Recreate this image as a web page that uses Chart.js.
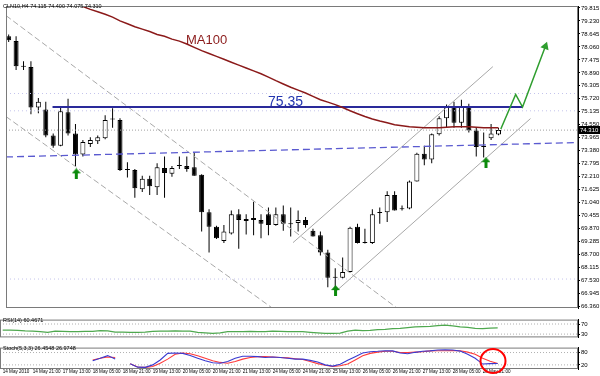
<!DOCTYPE html>
<html><head><meta charset="utf-8">
<script src="https://cdn.jsdelivr.net/npm/chart.js@4/dist/chart.umd.min.js"></script>
<style>
html,body{margin:0;padding:0;background:#fff;width:600px;height:376px;overflow:hidden}
canvas{position:absolute;left:0;display:block}
</style></head><body>
<canvas id="main" width="600" height="314" style="top:0;width:600px;height:314px"></canvas>
<canvas id="rsi" width="600" height="27" style="top:315px;width:600px;height:27px"></canvas>
<canvas id="sto" width="600" height="33" style="top:343px;width:600px;height:33px"></canvas>
<script>
// ---------- DATA ----------
const opens  = [78.54,78.32,77.19,77.15,75.33,75.24,74.07,73.60,75.11,74.16,73.21,73.68,73.81,73.94,74.79,74.77,72.51,72.51,71.65,72.12,71.73,72.60,72.34,72.69,72.69,72.64,72.30,70.61,69.96,69.31,69.65,70.52,70.22,70.35,70.26,70.52,70.04,70.52,70.07,70.13,70.26,69.78,69.57,68.79,67.66,67.66,67.92,69.96,69.22,69.22,70.58,70.61,71.39,70.74,70.78,71.99,73.25,72.99,74.12,74.85,75.37,74.64,75.37,74.29,73.60,73.94,74.115];
const highs  = [78.62,78.54,77.41,77.41,75.76,75.59,74.16,75.37,75.72,74.59,73.86,73.99,74.07,74.98,75.29,74.85,72.86,72.56,72.25,72.25,72.82,73.12,72.69,73.12,73.12,73.29,72.32,70.74,70.00,70.04,70.69,70.74,70.52,71.08,70.52,70.82,70.82,70.91,70.82,70.69,70.39,69.87,69.74,68.92,68.09,68.57,69.96,70.09,69.87,70.74,70.82,71.56,71.56,70.91,72.04,73.29,73.60,74.16,74.94,75.46,75.59,75.68,75.50,74.42,74.20,74.59,74.40];
const lows   = [78.28,77.02,77.02,75.03,75.07,73.99,73.51,73.58,74.07,72.69,73.12,73.55,73.68,73.90,74.42,72.47,72.17,71.26,71.52,71.39,71.39,71.26,72.21,72.56,72.43,72.25,69.74,68.79,69.40,69.22,69.61,68.96,69.61,69.57,69.44,69.57,70.00,69.78,69.52,69.74,69.91,69.52,68.66,67.23,67.14,67.62,67.90,69.20,69.20,69.18,70.09,70.17,70.69,70.69,70.74,71.99,72.73,72.82,74.07,74.42,74.42,74.42,74.20,73.12,73.08,73.86,74.075];
const closes = [78.36,77.19,77.17,75.33,75.59,74.07,73.60,75.16,74.16,73.21,73.77,73.86,73.99,74.77,74.81,72.51,72.53,71.69,72.12,71.78,72.64,72.38,72.60,72.71,72.56,72.25,70.61,69.96,69.44,69.74,70.52,70.26,70.30,70.26,70.09,70.04,70.52,70.09,70.09,70.26,70.04,69.52,68.79,67.66,67.68,67.92,69.91,69.22,69.26,70.52,70.61,71.39,70.69,70.78,71.99,73.25,72.99,74.12,74.85,75.37,74.64,75.37,74.29,73.55,73.55,74.16,74.31];
const ma100  = [null,null,null,null,null,null,null,null,null,80.01,79.88,79.75,79.64,79.53,79.40,79.23,79.10,78.97,78.86,78.75,78.62,78.54,78.41,78.32,78.19,78.04,77.89,77.76,77.63,77.50,77.37,77.24,77.11,76.98,76.85,76.70,76.54,76.39,76.24,76.11,75.98,75.83,75.68,75.57,75.46,75.33,75.18,75.05,74.92,74.81,74.72,74.64,74.55,74.51,74.46,74.44,74.42,74.42,74.42,74.44,74.46,74.46,74.46,74.44,74.42,74.42,74.42];
const rsi14  = [45.7,45.5,45,43,42,40,37,42,41,39.5,40,40.5,41,44,43,38,37.5,37,36.5,37.5,41,42,42,42.5,42,41.5,37,35,33,35,39.5,40,40,40.5,40,40,42,41,40,40,39.5,37,35,33,32.5,34,42,45.5,44,44.5,48,49,52,53,56,58.5,60,61,63.5,65.5,63,59,57,53,52,54,55];
const stochMain   = [null,null,null,null,null,null,null,null,null,null,null,null,40,52,65,48,null,25,9,8,20,44,76,78,76,66,52,40,30,28,36,52,62,62,60,56,58,56,52,48,48,42,34,20,14,23,42,60,78,84,86,89,88,78,74,81,86,88,92,93,92,87,72,52,24,26,26.45];
const stochSignal = [null,null,null,null,null,null,null,null,null,null,null,null,44,52,58,56,null,25,10,8,12,28,48,72,78,74,64,52,40,32,28,36,48,56,60,60,58,56,54,50,46,36,26,18,12,16,24,44,64,76,82,86,86,80,80,82,84,88,89,89,90,89,82,72,52,38,26.97];
const yTickLabels = [79.815,79.230,78.645,78.060,77.475,76.890,76.305,75.720,75.135,74.550,73.965,73.380,72.795,72.210,71.625,71.040,70.455,69.870,69.285,68.700,68.115,67.530,66.945,66.360];
const xTickBars   = [0,4,8,12,16,20,24,28,32,36,40,44,48,52,56,60,64];
const xTickLabels = ["14 May 2010","14 May 21:00","17 May 13:00","18 May 05:00","18 May 21:00","19 May 13:00","20 May 05:00","20 May 21:00","21 May 13:00","24 May 05:00","24 May 21:00","25 May 13:00","26 May 05:00","26 May 21:00","27 May 13:00","28 May 05:00","28 May 21:00"];
const resistance  = 75.35;
// trend objects: [barIndex, price] pairs
const descUpper = [[-0.36,79.47],[52.28,66.30]];
const descLower = [[-0.36,74.92],[35.49,66.30]];
const ascUpper  = [[38.31,69.24],[65.24,77.17]];
const ascLower  = [[43.91,66.99],[70.31,74.83]];
const dashedSupport = [[-0.36,73.10],[76.71,73.75]];
const projection = [[66.31,74.36],[68.31,75.92],[69.24,75.35],[72.31,78.08]];
const resistanceSpan = [5.91,69.24];
const buySignals = [[9.11,72.34],[44.04,67.08],[64.31,72.84]];
const faintLevels = [75.96,75.18,67.60];
const rsiLevels = [70,30];
const stochLevels = [80,20];
const header = "CLN10,H4 74.115 74.400 74.075 74.310";
const rsiTitle = "RSI(14) 60.4671";
const stochTitle = "Stoch(5,3,3) 26.4548 26.9748";

// ---------- CHART ----------
const X_MIN = -0.36, X_MAX = 76.71;
const Y_MIN = 66.295, Y_MAX = 79.902;
const FONT = "'Liberation Sans', Arial, sans-serif";
const idx = opens.map((_, i) => i);
const xy = arr => arr.map((v, i) => ({x: i, y: v}));
const pts = arr => arr.map(p => ({x: p[0], y: p[1]}));

function arrowImg() {
  const c = document.createElement('canvas'); c.width = 9; c.height = 11;
  const g = c.getContext('2d'); g.fillStyle = '#0B8A0B';
  g.beginPath(); g.moveTo(4.5,0); g.lineTo(9,5); g.lineTo(6,5); g.lineTo(6,11);
  g.lineTo(3,11); g.lineTo(3,5); g.lineTo(0,5); g.closePath(); g.fill();
  return c;
}

function lineDs(data, color, width, dash, order) {
  return {type:'line', data, borderColor:color, borderWidth:width, borderDash:dash||[],
          pointRadius:0, tension:0, fill:false, order:order||0, spanGaps:false};
}

const framePlugin = {
  id:'frame',
  afterDraw(chart) {
    const a = chart.chartArea, c = chart.ctx;
    c.save(); c.strokeStyle = '#7a7a7a'; c.lineWidth = 1;
    c.strokeRect(a.left+0.5, a.top+0.5, a.right-a.left-1, a.bottom-a.top-1);
    c.restore();
  }
};

function rightAxis(min, max, ticks, fmt) {
  return {
    type:'linear', position:'right', min, max,
    afterBuildTicks: s => { s.ticks = ticks.map(v => ({value:v})); },
    afterFit: s => { s.width = 22; },
    ticks:{autoSkip:false, font:{size:6, family:FONT}, color:'#000', padding:1, callback: fmt},
    grid:{drawOnChartArea:false, drawTicks:true, tickLength:2, color:'#000'},
    border:{display:true, color:'#000', width:1}
  };
}

const baseOpts = {
  responsive:false, animation:false, devicePixelRatio:1, events:[],
  layout:{padding:0},
  plugins:{legend:{display:false}, tooltip:{enabled:false}}
};

// main panel
new Chart(document.getElementById('main'), {
  type:'bar',
  data:{datasets:[
    {type:'bar', data: idx.map(i => ({x:i, y:[lows[i], highs[i]]})), barThickness:1,
     backgroundColor:'#000', borderWidth:0, grouped:false, inflateAmount:0, order:20},
    {type:'bar', data: idx.map(i => ({x:i, y:[opens[i], closes[i]]})), barThickness:5,
     backgroundColor: ctx => closes[ctx.dataIndex] >= opens[ctx.dataIndex] ? '#fff' : '#000',
     borderColor:'#000', borderWidth:1, borderSkipped:false, minBarLength:1, grouped:false, inflateAmount:0, order:19},
    lineDs(pts(descUpper), '#a8a8a8', 1, [6,3], 5),
    lineDs(pts(descLower), '#a8a8a8', 1, [6,3], 5),
    lineDs(pts(ascUpper), '#a8a8a8', 1, [], 5),
    lineDs(pts(ascLower), '#a8a8a8', 1, [], 5),
    ...faintLevels.map(v => lineDs([{x:X_MIN,y:v},{x:X_MAX,y:v}], '#c4c4ec', 1, [1,3], 6)),
    lineDs([{x:X_MIN,y:closes[closes.length-1]},{x:X_MAX,y:closes[closes.length-1]}], '#a0a0a0', 1, [1,2], 6),
    lineDs(pts(dashedSupport), '#5a5ad0', 1.3, [7,4], 4),
    lineDs([{x:resistanceSpan[0],y:resistance},{x:resistanceSpan[1],y:resistance}], '#2a2a9a', 2, [], 3),
    lineDs(xy(ma100).filter(p => p.y !== null), '#8b1a1a', 1.5, [], 2),
    Object.assign(lineDs(pts(projection), '#2f9e2f', 1.5, [], 1),
      {pointRadius: projection.map((_, i) => i === projection.length-1 ? 3.5 : 0),
       pointStyle:'triangle', pointRotation:20, pointBackgroundColor:'#2f9e2f', pointBorderColor:'#2f9e2f'}),
    {type:'line', data: pts(buySignals), showLine:false, pointStyle: arrowImg(), pointRadius:5, order:0}
  ]},
  options: Object.assign({}, baseOpts, {
    scales:{
      x:{type:'linear', min:X_MIN, max:X_MAX, display:false, offset:false},
      y: rightAxis(Y_MIN, Y_MAX, yTickLabels, v => Number(v).toFixed(3))
    }
  }),
  plugins:[framePlugin, {
    id:'labels',
    afterDraw(chart) {
      const c = chart.ctx, ys = chart.scales.y;
      c.save();
      c.textBaseline = 'alphabetic';
      c.fillStyle = '#8b1a1a'; c.font = '13px ' + FONT; c.fillText('MA100', 186, 44);
      c.fillStyle = '#2436b0'; c.font = '14px ' + FONT; c.fillText(String(resistance), 268, 106);
      c.fillStyle = '#000'; c.font = '5.5px ' + FONT; c.textBaseline = 'middle'; c.fillText(header, 3, 6);
      const last = closes[closes.length-1];
      const py = ys.getPixelForValue(last);
      c.fillStyle = '#000'; c.fillRect(578, Math.round(py)-4, 22, 8);
      c.fillStyle = '#fff'; c.font = '6px ' + FONT; c.fillText(last.toFixed(3), 580, Math.round(py));
      c.restore();
    }
  }]
});

// RSI panel
new Chart(document.getElementById('rsi'), {
  type:'line',
  data:{datasets:[
    ...rsiLevels.map(v => lineDs([{x:X_MIN,y:v},{x:X_MAX,y:v}], '#b0b0b0', 1, [1,2], 3)),
    lineDs(xy(rsi14), '#4fa84f', 1.3, [], 1)
  ]},
  options: Object.assign({}, baseOpts, {
    scales:{
      x:{type:'linear', min:X_MIN, max:X_MAX, display:false, offset:false},
      y: rightAxis(16.9, 87.5, rsiLevels, v => String(v))
    }
  }),
  plugins:[framePlugin, {
    id:'rsiTitle',
    afterDraw(chart) {
      const c = chart.ctx; c.save(); c.fillStyle = '#000'; c.font = '5.5px ' + FONT;
      c.textBaseline = 'middle'; c.fillText(rsiTitle, 3, 5); c.restore();
    }
  }]
});

// Stochastic panel
new Chart(document.getElementById('sto'), {
  type:'line',
  data:{datasets:[
    ...stochLevels.map(v => lineDs([{x:X_MIN,y:v},{x:X_MAX,y:v}], '#b0b0b0', 1, [1,2], 3)),
    lineDs(xy(stochSignal), '#ff3a3a', 1.1, [], 2),
    lineDs(xy(stochMain), '#3a3ad0', 1.1, [], 1)
  ]},
  options: Object.assign({}, baseOpts, {
    scales:{
      x:{type:'linear', position:'bottom', min:X_MIN, max:X_MAX, offset:false,
         afterBuildTicks: s => { s.ticks = xTickBars.map(v => ({value:v})); },
         afterFit: s => { s.height = 7; },
         ticks:{autoSkip:false, maxRotation:0, minRotation:0, align:'start', padding:0,
                font:{size:4.6, family:FONT}, color:'#000',
                callback: (v) => xTickLabels[xTickBars.indexOf(v)]},
         grid:{drawOnChartArea:false, drawTicks:false}, border:{display:false}},
      y: rightAxis(0, 104, stochLevels, v => String(v))
    }
  }),
  plugins:[framePlugin, {
    id:'stoTitle',
    afterDraw(chart) {
      const c = chart.ctx; c.save(); c.fillStyle = '#000'; c.font = '5.5px ' + FONT;
      c.textBaseline = 'middle'; c.fillText(stochTitle, 3, 5);
      c.strokeStyle = '#ff0000'; c.lineWidth = 2;
      c.beginPath(); c.ellipse(493, 18, 12.5, 12, 0, 0, Math.PI*2); c.stroke();
      c.restore();
    }
  }]
});
</script>
</body></html>
